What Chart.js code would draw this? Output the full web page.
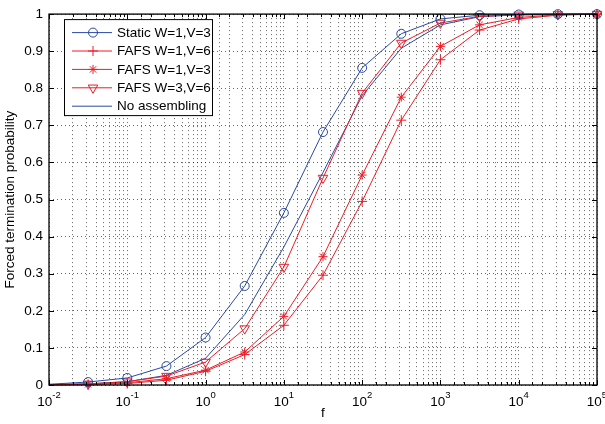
<!DOCTYPE html>
<html>
<head>
<meta charset="utf-8">
<script src="https://cdn.jsdelivr.net/npm/chart.js@4/dist/chart.umd.min.js"></script>
<style>
  html, body { margin: 0; padding: 0; background: #fff; }
</style>
</head>
<body>
<canvas id="chart" width="605" height="424"></canvas>
<script>
// f values: every half decade from 1e-2 to 1e5
const fValues = [0.01, 0.03162, 0.1, 0.3162, 1, 3.162, 10, 31.62, 100, 316.2, 1000, 3162, 10000, 31623, 100000];

const staticW1V3   = [0.002, 0.008, 0.019, 0.051, 0.128, 0.267, 0.464, 0.682, 0.855, 0.947, 0.987, 0.997, 0.999, 1.0, 1.0];
const fafsW1V6     = [0.000, 0.001, 0.004, 0.013, 0.037, 0.082, 0.161, 0.296, 0.495, 0.714, 0.877, 0.957, 0.987, 0.997, 1.0];
const fafsW1V3     = [0.000, 0.002, 0.006, 0.017, 0.040, 0.089, 0.185, 0.346, 0.566, 0.776, 0.913, 0.971, 0.991, 0.998, 1.0];
const fafsW3V6     = [0.001, 0.003, 0.009, 0.024, 0.062, 0.152, 0.318, 0.558, 0.787, 0.922, 0.976, 0.994, 0.998, 0.999, 1.0];
const noAssembling = [0.001, 0.003, 0.009, 0.026, 0.072, 0.190, 0.372, 0.573, 0.780, 0.908, 0.971, 0.993, 0.998, 0.999, 1.0];

const seriesNames = ["Static W=1,V=3", "FAFS W=1,V=6", "FAFS W=1,V=3", "FAFS W=3,V=6", "No assembling"];
const xTickExps = [-2, -1, 0, 1, 2, 3, 4, 5];
const yTickLabels = ["0", "0.1", "0.2", "0.3", "0.4", "0.5", "0.6", "0.7", "0.8", "0.9", "1"];

const BLUE = "#2a4aa3";
const RED = "#ec1c26";
const FONT = "'Liberation Sans', Arial, Helvetica, sans-serif";
const FSIZE = 13.5;

// no marker at the first (1e-2) point
const markerR = r => fValues.map((f, i) => i === 0 ? 0 : r);

function series(values, label, color, style, r, rot) {
    return {
        label: label,
        data: fValues.map((f, i) => ({ x: f, y: values[i] })),
        borderColor: color,
        borderWidth: 1,
        backgroundColor: "transparent",
        pointStyle: style,
        pointRadius: markerR(r),
        pointRotation: rot || 0,
        pointBorderColor: color,
        pointBackgroundColor: "transparent",
        pointBorderWidth: 1,
        tension: 0,
        clip: false
    };
}

const datasets = [
    series(staticW1V3, seriesNames[0], BLUE, "circle", 4.5),
    series(fafsW1V6, seriesNames[1], RED, "cross", 5),
    series(fafsW1V3, seriesNames[2], RED, "star", 4.5),
    series(fafsW3V6, seriesNames[3], RED, "triangle", 5.5, 180),
    series(noAssembling, seriesNames[4], BLUE, false, 0)
];
datasets[4].pointRadius = 0;

function drawMarker(ctx, style, x, y, r) {
    ctx.beginPath();
    if (style === "circle") {
        ctx.arc(x, y, r, 0, Math.PI * 2);
    } else if (style === "cross" || style === "star") {
        ctx.moveTo(x - r, y); ctx.lineTo(x + r, y);
        ctx.moveTo(x, y - r); ctx.lineTo(x, y + r);
        if (style === "star") {
            const d = r * Math.SQRT1_2;
            ctx.moveTo(x - d, y - d); ctx.lineTo(x + d, y + d);
            ctx.moveTo(x - d, y + d); ctx.lineTo(x + d, y - d);
        }
    } else if (style === "triangle") {
        const h = r * 0.866;
        ctx.moveTo(x - h, y - r / 2);
        ctx.lineTo(x + h, y - r / 2);
        ctx.lineTo(x, y + r);
        ctx.closePath();
    }
    ctx.stroke();
}

const framePlugin = {
    id: "frame",
    afterDatasetsDraw(chart) {
        const ctx = chart.ctx;
        const a = chart.chartArea;
        const xs = chart.scales.x, ys = chart.scales.y;
        ctx.save();

        // box around the plot
        ctx.strokeStyle = "#000";
        ctx.lineWidth = 1.3;
        ctx.strokeRect(a.left, a.top, a.right - a.left, a.bottom - a.top);

        // inward ticks on all four sides
        ctx.lineWidth = 1;
        ctx.beginPath();
        xs.ticks.forEach(t => {
            const px = Math.round(xs.getPixelForValue(t.value)) + 0.5;
            const major = Math.abs(Math.log10(t.value) - Math.round(Math.log10(t.value))) < 1e-6;
            const len = major ? 5 : 3;
            ctx.moveTo(px, a.bottom); ctx.lineTo(px, a.bottom - len);
            ctx.moveTo(px, a.top); ctx.lineTo(px, a.top + len);
        });
        ys.ticks.forEach(t => {
            const py = Math.round(ys.getPixelForValue(t.value)) + 0.5;
            ctx.moveTo(a.left, py); ctx.lineTo(a.left + 5, py);
            ctx.moveTo(a.right, py); ctx.lineTo(a.right - 5, py);
        });
        ctx.stroke();

        // x tick labels 10^n
        ctx.fillStyle = "#000";
        ctx.textBaseline = "alphabetic";
        ctx.textAlign = "left";
        xTickExps.forEach(e => {
            const px = xs.getPixelForValue(Math.pow(10, e));
            ctx.font = FSIZE + "px " + FONT;
            const wb = ctx.measureText("10").width;
            ctx.font = "9.5px " + FONT;
            const we = ctx.measureText(String(e)).width;
            const x0 = px - (wb + we) / 2;
            ctx.font = FSIZE + "px " + FONT;
            ctx.fillText("10", x0, a.bottom + 21);
            ctx.font = "9.5px " + FONT;
            ctx.fillText(String(e), x0 + wb, a.bottom + 13);
        });

        // legend
        const lx = a.left + 15, ly = a.top + 5, lw = 148, lh = 96;
        ctx.fillStyle = "#fff";
        ctx.fillRect(lx, ly, lw, lh);
        ctx.strokeStyle = "#000";
        ctx.lineWidth = 1;
        ctx.strokeRect(lx + 0.5, ly + 0.5, lw, lh);
        chart.data.datasets.forEach((ds, i) => {
            const y = ly + 13.5 + i * 18.4;
            ctx.strokeStyle = ds.borderColor;
            ctx.lineWidth = 1;
            ctx.beginPath();
            ctx.moveTo(lx + 8, y); ctx.lineTo(lx + 48, y);
            ctx.stroke();
            if (ds.pointStyle) {
                drawMarker(ctx, ds.pointStyle, lx + 29, y, ds.pointRadius[1]);
            }
            ctx.fillStyle = "#000";
            ctx.font = FSIZE + "px " + FONT;
            ctx.textBaseline = "middle";
            ctx.fillText(ds.label, lx + 53, y + 0.5);
        });
        ctx.restore();
    }
};

const gridStyle = {
    color: "rgba(0,0,0,0.6)",
    lineWidth: 1,
    drawTicks: false
};
const dottedBorder = { display: false, dash: [1, 3] };

new Chart(document.getElementById("chart"), {
    type: "line",
    data: { datasets: datasets },
    options: {
        responsive: false,
        animation: false,
        layout: { padding: { top: 10, right: 8, left: 0, bottom: 0 } },
        plugins: {
            legend: { display: false },
            tooltip: { enabled: false }
        },
        scales: {
            x: {
                type: "logarithmic",
                min: 0.01,
                max: 100000,
                border: dottedBorder,
                grid: gridStyle,
                ticks: { display: false, autoSkip: false },
                title: {
                    display: true,
                    text: "f",
                    color: "#000",
                    font: { family: FONT, size: FSIZE },
                    padding: { top: 0, bottom: 3 }
                },
                afterFit: s => { s.height = 39; }
            },
            y: {
                min: 0,
                max: 1,
                border: dottedBorder,
                grid: gridStyle,
                ticks: {
                    stepSize: 0.1,
                    padding: 6,
                    color: "#000",
                    font: { family: FONT, size: FSIZE },
                    callback: (v, i) => yTickLabels[i]
                },
                title: {
                    display: true,
                    text: "Forced termination probability",
                    color: "#000",
                    font: { family: FONT, size: FSIZE },
                    padding: { top: 2, bottom: 0 }
                },
                afterFit: s => { s.width = 49; }
            }
        }
    },
    plugins: [framePlugin]
});
</script>
</body>
</html>
